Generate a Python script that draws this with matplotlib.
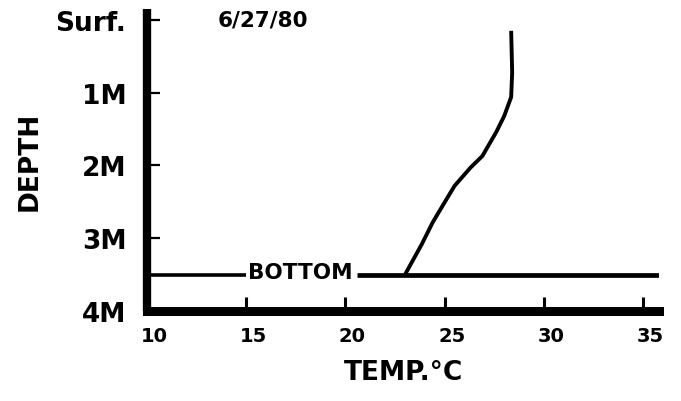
"""Temperature profile, 6/27/80: depth vs temperature with bottom line."""
import matplotlib
matplotlib.use("Agg")
import matplotlib.pyplot as plt
import matplotlib.transforms as mtransforms

matplotlib.rcParams["font.family"] = ["DejaVu Sans"]

# profile (temp in deg C, depth in m)
temp = [28.35, 28.4, 28.35, 28.0, 27.6, 26.9, 26.3, 25.5, 25.1, 24.4, 23.85, 23.0]
depth = [0.15, 0.72, 1.06, 1.32, 1.54, 1.87, 2.03, 2.28, 2.46, 2.78, 3.08, 3.5]

bottom_depth = 3.5
bottom_left = [10, 15]
bottom_right = [20.6, 35.8]

x_ticks = [10, 15, 20, 25, 30, 35]
y_ticks = [0, 1, 2, 3, 4]
y_labels = ["Surf.", "1M", "2M", "3M", "4M"]

fig = plt.figure(figsize=(6.81, 4.02), dpi=100)
ax = fig.add_axes([0.2159, 0.2239, 0.7518, 0.7512])

ax.plot(temp, depth, color="black", lw=2.8, solid_capstyle="butt")
ax.plot(bottom_left, [bottom_depth] * 2, color="black", lw=2.6,
        solid_capstyle="butt")
ax.plot(bottom_right, [bottom_depth] * 2, color="black", lw=3.4,
        solid_capstyle="butt")
ax.text(17.7, bottom_depth + 0.05, "BOTTOM", ha="center", va="baseline",
        fontsize=15.5, fontweight="bold")

ax.set_xlim(10, 35.8)
ax.set_ylim(4, -0.15)
ax.set_xticks(x_ticks)
ax.set_yticks(y_ticks)
ax.set_yticklabels(y_labels)

for s in ["top", "right"]:
    ax.spines[s].set_visible(False)
ax.spines["left"].set_linewidth(6)
ax.spines["bottom"].set_linewidth(6.5)
ax.spines["left"].set_capstyle("butt")
ax.spines["bottom"].set_capstyle("projecting")

ax.tick_params(axis="x", direction="in", length=10, width=2.2, pad=11,
               labelsize=14)
ax.tick_params(axis="y", direction="in", length=9, width=1.6, pad=15,
               labelsize=19)
for lab in ax.get_yticklabels():
    lab.set_fontweight("bold")
# the printed x labels sit a little right of their ticks
shift = mtransforms.ScaledTranslation(0.07, 0, fig.dpi_scale_trans)
for lab in ax.get_xticklabels():
    lab.set_fontweight("semibold")
    lab.set_transform(lab.get_transform() + shift)

ax.set_xlabel("TEMP.°C", fontsize=19, fontweight="bold", labelpad=10)
ax.set_ylabel("DEPTH", fontsize=19, fontweight="bold", labelpad=9)
fig.text(263 / 681, 1 - 21 / 402, "6/27/80", ha="center", va="center",
         fontsize=15.5, fontweight="bold")

fig.savefig("out.png", dpi=100)
